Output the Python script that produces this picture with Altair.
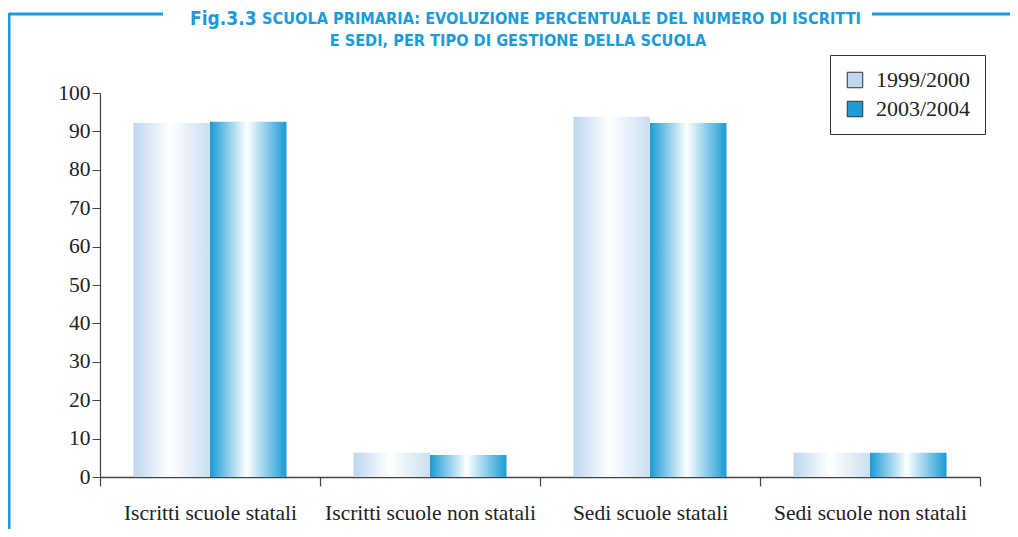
import altair as alt
import pandas as pd

categories = ["Iscritti scuole statali", "Iscritti scuole non statali", "Sedi scuole statali", "Sedi scuole non statali"]
years = ["1999/2000", "2003/2004"]
values_1999 = [92.2, 6.3, 93.8, 6.3]
values_2003 = [92.5, 5.7, 92.2, 6.3]
y_ticks = [0, 10, 20, 30, 40, 50, 60, 70, 80, 90, 100]
title_fig = "Fig.3.3"
title_line1 = "SCUOLA PRIMARIA: EVOLUZIONE PERCENTUALE DEL NUMERO DI ISCRITTI"
title_line2 = "E SEDI, PER TIPO DI GESTIONE DELLA SCUOLA"

rows = []
for c, v in zip(categories, values_1999):
    rows.append({"cat": c, "year": years[0], "val": v})
for c, v in zip(categories, values_2003):
    rows.append({"cat": c, "year": years[1], "val": v})
df = pd.DataFrame(rows)

BLUE = "#1b9bd7"
LIGHT = "#bdd8ef"
SERIF = "Liberation Serif"
COND = "Liberation Sans Narrow, DejaVu Sans Condensed, sans-serif"

grad1 = alt.Gradient(gradient="linear", x1=0, x2=1, y1=0, y2=0, stops=[
    alt.GradientStop(offset=0, color="#bcd7ef"),
    alt.GradientStop(offset=0.47, color="#ffffff"),
    alt.GradientStop(offset=1, color="#cbdff1"),
])
grad2 = alt.Gradient(gradient="linear", x1=0, x2=1, y1=0, y2=0, stops=[
    alt.GradientStop(offset=0, color="#1a9ad6"),
    alt.GradientStop(offset=0.48, color="#ffffff"),
    alt.GradientStop(offset=1, color="#1a9ad6"),
])

x_enc = alt.X("cat:N", sort=categories, title=None,
              scale=alt.Scale(paddingInner=0, paddingOuter=0),
              axis=alt.Axis(labelAngle=0, labelFont=SERIF, labelFontSize=21.5, labelColor="#222",
                            labelPadding=16, labelLimit=400, tickBand="extent", tickSize=9,
                            tickColor="#444", domainColor="#444", domainWidth=1.5, tickWidth=1.2))
y_enc = alt.Y("val:Q", title=None, scale=alt.Scale(domain=[0, 100], nice=False),
              axis=alt.Axis(values=y_ticks, labelFont=SERIF, labelFontSize=21.5, labelColor="#222",
                            grid=False, tickSize=8, tickColor="#444", domainColor="#444",
                            domainWidth=1.2, labelPadding=2))
xo_enc = alt.XOffset("year:N", scale=alt.Scale(domain=years, paddingInner=0, paddingOuter=0.438))

base = alt.Chart(df)
b1 = base.transform_filter(alt.datum.year == years[0]).mark_bar(fill=grad1).encode(x=x_enc, y=y_enc, xOffset=xo_enc)
b2 = base.transform_filter(alt.datum.year == years[1]).mark_bar(fill=grad2).encode(x=x_enc, y=y_enc, xOffset=xo_enc)
leg = base.mark_bar(opacity=0).encode(
    x=x_enc, y=y_enc, xOffset=xo_enc,
    color=alt.Color("year:N", scale=alt.Scale(domain=years, range=[LIGHT, BLUE]),
                    legend=alt.Legend(title=None, orient="none", legendX=730, legendY=-38,
                                      strokeColor="#333", padding=14, symbolType="square",
                                      symbolSize=240, symbolStrokeColor="#333", symbolStrokeWidth=1,
                                      symbolOpacity=1, labelFont=SERIF, labelFontSize=22,
                                      labelColor="#222", rowPadding=7, labelOffset=10)))

one = pd.DataFrame({"a": [0]})
tb = alt.Chart(one)
t_fig = tb.mark_text(text=title_fig, font=COND, fontSize=19, fontWeight="bold", color=BLUE,
                     align="left", baseline="alphabetic").encode(x=alt.value(90), y=alt.value(-68))
t_l1 = tb.mark_text(text=title_line1, font=COND, fontSize=16.2, fontWeight="bold", color=BLUE,
                    align="left", baseline="alphabetic").encode(x=alt.value(162), y=alt.value(-69))
t_l2 = tb.mark_text(text=title_line2, font=COND, fontSize=16.2, fontWeight="bold", color=BLUE,
                    align="center", baseline="alphabetic").encode(x=alt.value(418), y=alt.value(-47))
r1 = tb.mark_rule(color=BLUE, strokeWidth=3).encode(x=alt.value(-91), x2=alt.value(63), y=alt.value(-79), y2=alt.value(-79))
r2 = tb.mark_rule(color=BLUE, strokeWidth=3).encode(x=alt.value(772), x2=alt.value(915), y=alt.value(-79), y2=alt.value(-79))
r3 = tb.mark_rule(color=BLUE, strokeWidth=3).encode(x=alt.value(-91), x2=alt.value(-91), y=alt.value(-80), y2=alt.value(450))

chart = alt.layer(b1, b2, leg, r1, r2, r3, t_fig, t_l1, t_l2).properties(
    width=880, height=384,
    background="white",
    autosize=alt.AutoSizeParams(type="none"),
    padding={"left": 92, "top": 85, "right": 30, "bottom": 52},
).configure_view(stroke=None)

chart.save("out.html", embed_options={"renderer": "svg", "actions": False})
